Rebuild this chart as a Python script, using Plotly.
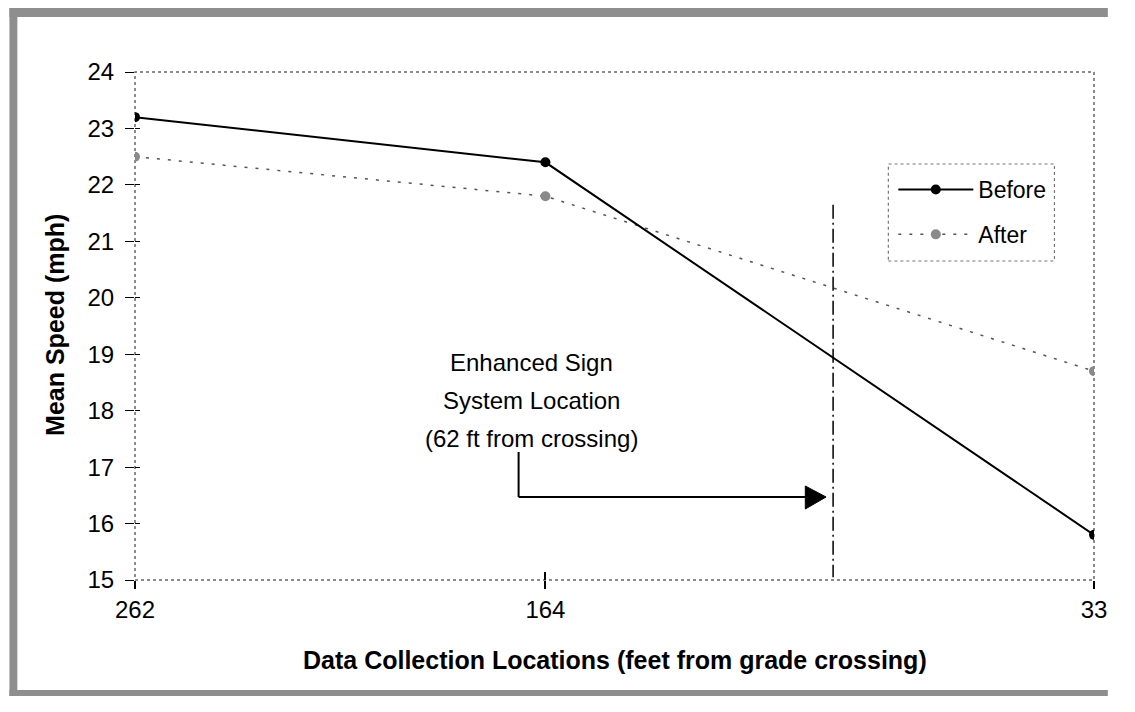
import plotly.graph_objects as go

# ---- data ----
locations = [262, 164, 33]
before = [23.2, 22.4, 15.8]
after = [22.5, 21.8, 18.7]
x_ticks = [262, 164, 33]
y_ticks = [15, 16, 17, 18, 19, 20, 21, 22, 23, 24]
sign_x = 95.3          # where the sign line is drawn on the axis
sign_y = [21.65, 15.05]
sign_text = ["Enhanced Sign", "System Location", "(62 ft from crossing)"]

OFF = 8                       # page body margin
W, H = 1135 - 3 * OFF, 712 - 3 * OFF
L, T = 135 - OFF, 72 - OFF
R = W - (1105 - OFF)
B = H - (580 - OFF)
PW, PH = W - L - R, H - T - B
FONT = "Liberation Sans, Arial, Helvetica, sans-serif"
PAGE_R, PAGE_B = OFF + W, OFF + H   # figure edges in screen pixels


def px(x):   # screen x pixel -> paper coordinate
    return (x - OFF - L) / PW


def py(y):   # screen y pixel -> paper coordinate
    return (H - B - (y - OFF)) / PH


fig = go.Figure()

fig.add_trace(go.Scatter(
    x=locations, y=after, name="After", mode="lines+markers",
    line=dict(color="#555555", width=1.5, dash="3px,8px"),
    marker=dict(color="#8a8a8a", size=10, line=dict(width=0)),
    legendgroup="a", legendrank=2,
))
fig.add_trace(go.Scatter(
    x=locations, y=before, name="Before", mode="lines+markers",
    line=dict(color="black", width=2),
    marker=dict(color="black", size=10),
    legendgroup="b", legendrank=1,
))
fig.add_trace(go.Scatter(
    x=[sign_x, sign_x], y=sign_y, mode="lines", showlegend=False,
    xaxis="x2", yaxis="y2",
    line=dict(color="black", width=1.5, dash="14px,4px,2px,4px"),
    hoverinfo="skip",
))

shapes = []
gray = "#8e8e8e"
# outer gray frame (kept inside the figure so the page does not scroll)
shapes.append(dict(type="rect", xref="paper", yref="paper", x0=px(OFF), x1=px(PAGE_R),
                   y0=py(17), y1=py(OFF), fillcolor=gray, line=dict(width=0), layer="below"))
shapes.append(dict(type="rect", xref="paper", yref="paper", x0=px(OFF), x1=px(16),
                   y0=py(PAGE_B), y1=py(OFF), fillcolor=gray, line=dict(width=0), layer="below"))
shapes.append(dict(type="rect", xref="paper", yref="paper", x0=px(OFF), x1=px(PAGE_R),
                   y0=py(PAGE_B), y1=py(PAGE_B - 6), fillcolor=gray, line=dict(width=0), layer="below"))
# dotted plot border
shapes.append(dict(type="rect", xref="paper", yref="paper", x0=0, x1=1, y0=0, y1=1,
                   line=dict(color="#666666", width=1.5, dash="dot"), layer="below"))
# legend box
shapes.append(dict(type="rect", xref="paper", yref="paper", x0=px(897), x1=px(1065),
                   y0=py(261), y1=py(164), line=dict(color="#777777", width=1.2, dash="dot")))
# elbow arrow
shapes.append(dict(type="line", xref="paper", yref="paper", x0=px(523), x1=px(523),
                   y0=py(452), y1=py(497), line=dict(color="black", width=2)))
shapes.append(dict(type="line", xref="paper", yref="paper", x0=px(523), x1=px(816),
                   y0=py(497), y1=py(497), line=dict(color="black", width=2)))
shapes.append(dict(type="path", xref="paper", yref="paper",
                   path=f"M {px(813)} {py(486)} L {px(834)} {py(497)} L {px(813)} {py(509)} Z",
                   fillcolor="black", line=dict(color="black", width=1)))

annotations = []
for i, t in enumerate(sign_text):
    annotations.append(dict(text=t, xref="paper", yref="paper", x=px(536), y=py(362 + 38 * i),
                            xanchor="center", yanchor="middle", showarrow=False,
                            font=dict(family=FONT, size=24, color="black")))
annotations.append(dict(text="<b>Data Collection Locations (feet from grade crossing)</b>",
                        xref="paper", yref="paper", x=px(620), y=py(660),
                        xanchor="center", yanchor="middle", showarrow=False,
                        font=dict(family=FONT, size=25, color="black")))
annotations.append(dict(text="<b>Mean Speed (mph)</b>", textangle=-90,
                        xref="paper", yref="paper", x=px(54), y=py(325),
                        xanchor="center", yanchor="middle", showarrow=False,
                        font=dict(family=FONT, size=25, color="black")))

fig.update_layout(
    width=W, height=H,
    margin=dict(l=L, r=R, t=T, b=B),
    paper_bgcolor="white", plot_bgcolor="white",
    font=dict(family=FONT, size=24, color="black"),
    shapes=shapes, annotations=annotations,
    showlegend=True,
    legend=dict(x=px(902), y=py(168), xanchor="left", yanchor="top",
                bgcolor="rgba(0,0,0,0)", borderwidth=0,
                font=dict(family=FONT, size=23, color="black"),
                traceorder="grouped", tracegroupgap=12, itemwidth=75),
    xaxis=dict(
        range=[262, 33], tickvals=x_ticks, ticktext=[str(v) for v in x_ticks],
        showgrid=False, zeroline=False, showline=False,
        ticks="outside", ticklen=8, tickcolor="black", tickwidth=1.5,
        tickfont=dict(family=FONT, size=24, color="black"),
    ),
    yaxis=dict(
        range=[15, 24], tickvals=y_ticks,
        showgrid=False, zeroline=False, showline=False,
        ticks="outside", ticklen=9, tickcolor="black", tickwidth=1,
        ticklabelstandoff=6,
        tickfont=dict(family=FONT, size=24, color="black"),
    ),
    xaxis2=dict(
        range=[262, 33], tickvals=x_ticks, overlaying="x", anchor="y2",
        showgrid=False, zeroline=False, showline=False, showticklabels=False,
        ticks="inside", ticklen=8, tickcolor="black", tickwidth=1.5, side="bottom",
    ),
    yaxis2=dict(
        range=[15, 24], tickvals=y_ticks, overlaying="y", anchor="x2",
        showgrid=False, zeroline=False, showline=False, showticklabels=False,
        ticks="inside", ticklen=5, tickcolor="black", tickwidth=1, side="left",
    ),
)

fig.write_html("out.html")
